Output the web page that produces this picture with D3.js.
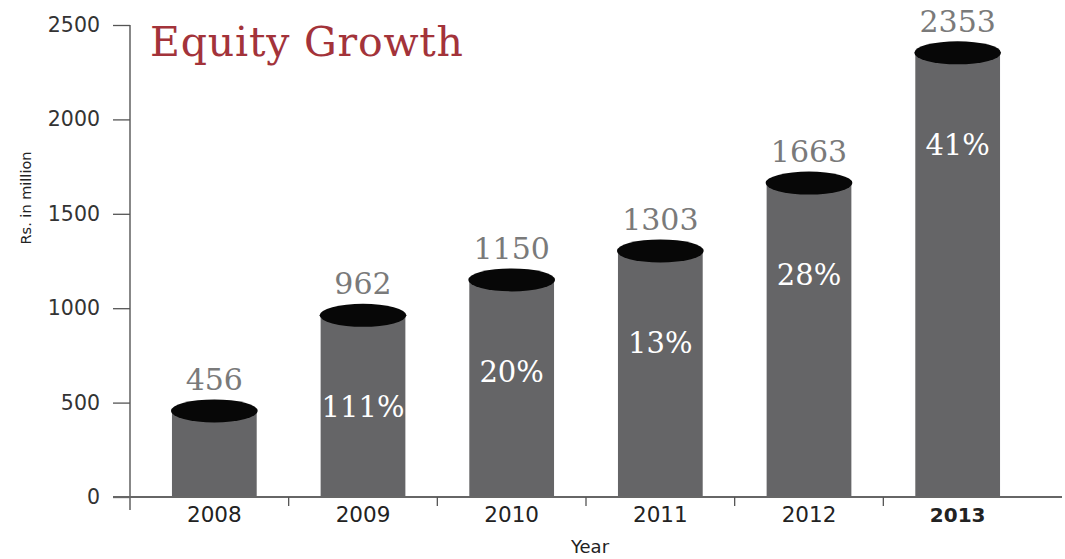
<!DOCTYPE html>
<html>
<head>
<meta charset="utf-8">
<script src="https://cdn.jsdelivr.net/npm/d3@7"></script>
<style>
  html, body { margin: 0; padding: 0; background: #fff; }
  svg { display: block; }
</style>
</head>
<body>
<svg id="chart" width="1065" height="559"></svg>
<script>
// Equity by year (Rs. in million) and year-on-year growth
const years = ["2008", "2009", "2010", "2011", "2012", "2013"];
const equity = [456, 962, 1150, 1303, 1663, 2353];
const growth = ["", "111%", "20%", "13%", "28%", "41%"];
const yTicks = [0, 500, 1000, 1500, 2000, 2500];

const svg = d3.select("#chart");

const axisX = 130, baseY = 497, topY = 25;
const sansFont = "'DejaVu Sans', sans-serif";
const slabFont = "'DejaVu Serif', serif";

const x = d3.scaleBand()
  .domain(years)
  .range([140, 1032])
  .paddingInner(0.43)
  .paddingOuter(0.215);

const y = d3.scaleLinear()
  .domain([0, 2500])
  .range([baseY, topY]);

// Bars (cylinder bodies)
const g = svg.append("g");
g.selectAll("rect.bar")
  .data(equity)
  .join("rect")
  .attr("class", "bar")
  .attr("x", (d, i) => x(years[i]))
  .attr("y", d => y(d))
  .attr("width", x.bandwidth())
  .attr("height", d => baseY - y(d))
  .attr("fill", "#656567");

// Cylinder tops
g.selectAll("ellipse.cap")
  .data(equity)
  .join("ellipse")
  .attr("class", "cap")
  .attr("cx", (d, i) => x(years[i]) + x.bandwidth() / 2)
  .attr("cy", d => y(d))
  .attr("rx", x.bandwidth() / 2 + 1)
  .attr("ry", 11.5)
  .attr("fill", "#070707");

// Value labels above each cylinder
g.selectAll("text.val")
  .data(equity)
  .join("text")
  .attr("class", "val")
  .attr("x", (d, i) => x(years[i]) + x.bandwidth() / 2)
  .attr("y", d => y(d) - 21)
  .attr("text-anchor", "middle")
  .attr("font-family", slabFont)
  .attr("font-size", 30)
  .attr("fill", "#7a7a7a")
  .text(d => d);

// Growth labels inside the bars
g.selectAll("text.pct")
  .data(equity)
  .join("text")
  .attr("class", "pct")
  .attr("x", (d, i) => x(years[i]) + x.bandwidth() / 2)
  .attr("y", d => y(d) + 102)
  .attr("text-anchor", "middle")
  .attr("font-family", slabFont)
  .attr("font-size", 29)
  .attr("fill", "#ffffff")
  .text((d, i) => growth[i]);

// Y axis
const yAxis = svg.append("g")
  .attr("transform", `translate(${axisX},0)`)
  .call(d3.axisLeft(y).tickValues(yTicks).tickSize(17).tickPadding(13).tickFormat(d3.format("d")));
yAxis.select(".domain").remove();
yAxis.selectAll(".tick line").attr("stroke", "#555").attr("stroke-width", 1.3);
yAxis.selectAll(".tick text")
  .attr("font-family", sansFont)
  .attr("font-size", 20.5)
  .attr("fill", "#333");
svg.append("line")
  .attr("x1", axisX).attr("x2", axisX)
  .attr("y1", topY).attr("y2", 510)
  .attr("stroke", "#555").attr("stroke-width", 1.4);

// X axis baseline
svg.append("line")
  .attr("x1", 113).attr("x2", 1062)
  .attr("y1", baseY).attr("y2", baseY)
  .attr("stroke", "#666").attr("stroke-width", 2);

// X axis ticks between categories
const step = x.step();
const seps = years.slice(1).map(yr => x(yr) - (step - x.bandwidth()) / 2);
svg.selectAll("line.sep")
  .data(seps)
  .join("line")
  .attr("class", "sep")
  .attr("x1", d => d).attr("x2", d => d)
  .attr("y1", baseY).attr("y2", baseY + 9)
  .attr("stroke", "#555").attr("stroke-width", 1.3);

// X tick labels
svg.selectAll("text.year")
  .data(years)
  .join("text")
  .attr("class", "year")
  .attr("x", d => x(d) + x.bandwidth() / 2)
  .attr("y", 522)
  .attr("text-anchor", "middle")
  .attr("font-family", sansFont)
  .attr("font-size", (d, i) => i === years.length - 1 ? 20 : 21.5)
  .attr("font-weight", (d, i) => i === years.length - 1 ? "bold" : "normal")
  .attr("fill", "#222")
  .text(d => d);

// Axis titles
svg.append("text")
  .attr("x", 590).attr("y", 553)
  .attr("text-anchor", "middle")
  .attr("font-family", sansFont)
  .attr("font-size", 18)
  .attr("fill", "#222")
  .text("Year");

svg.append("text")
  .attr("transform", "translate(31,198) rotate(-90)")
  .attr("text-anchor", "middle")
  .attr("font-family", sansFont)
  .attr("font-size", 14.5)
  .attr("fill", "#222")
  .text("Rs. in million");

// Chart title
svg.append("text")
  .attr("x", 150).attr("y", 56)
  .attr("font-family", slabFont)
  .attr("font-size", 41)
  .attr("textLength", 313)
  .attr("lengthAdjust", "spacing")
  .attr("fill", "#a3333a")
  .text("Equity Growth");
</script>
</body>
</html>
